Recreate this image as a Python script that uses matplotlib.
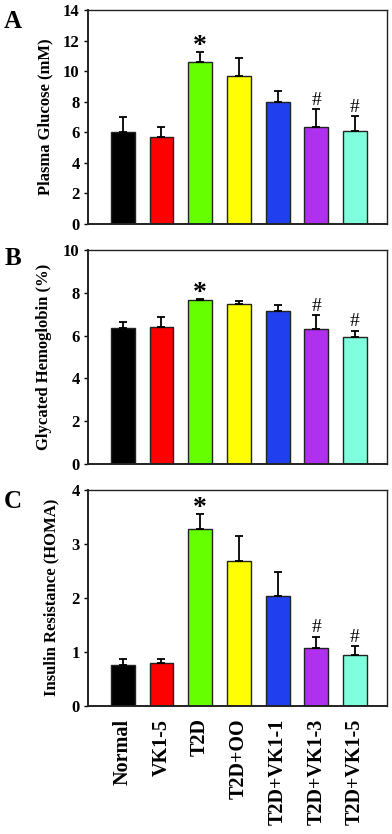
import matplotlib
matplotlib.use("Agg")
import matplotlib.pyplot as plt
import numpy as np

groups = ["Normal", "VK1-5", "T2D", "T2D+OO", "T2D+VK1-1", "T2D+VK1-3", "T2D+VK1-5"]
colors = ["#000000", "#FF0000", "#66FF00", "#FFFF00", "#2040F0", "#B030F0", "#80FFDD"]

glucose = [6.0, 5.71, 10.6, 9.68, 8.0, 6.37, 6.08]
glucose_err = [0.98, 0.61, 0.65, 1.2, 0.7, 1.13, 0.96]

hba1c = [6.36, 6.39, 7.67, 7.47, 7.14, 6.30, 5.94]
hba1c_err = [0.28, 0.5, 0.06, 0.15, 0.3, 0.64, 0.28]

homa = [0.75, 0.79, 3.27, 2.68, 2.04, 1.08, 0.94]
homa_err = [0.11, 0.07, 0.28, 0.47, 0.44, 0.2, 0.16]

marks_glucose = ["", "", "*", "", "", "#", "#"]
marks_hba1c = ["", "", "*", "", "", "#", "#"]
marks_homa = ["", "", "*", "", "", "#", "#"]

panels = [
    ("A", "Plasma Glucose (mM)", glucose, glucose_err, marks_glucose, 14, 2),
    ("B", "Glycated Hemoglobin (%)", hba1c, hba1c_err, marks_hba1c, 10, 2),
    ("C", "Insulin Resistance (HOMA)", homa, homa_err, marks_homa, 4, 1),
]

plt.rcParams["font.family"] = ["Liberation Serif", "DejaVu Serif"]
plt.rcParams["font.weight"] = "bold"

W, H = 392, 834
fig = plt.figure(figsize=(W / 100, H / 100), dpi=100)

boxes = [(10, 224), (250, 464), (489.5, 706)]
label_x = [45, 44, 51]
letter_y = [22, 258, 501]

x = np.arange(len(groups))
for k, (letter, ylabel, vals, errs, marks, ymax, step) in enumerate(panels):
    top, bot = boxes[k]
    ax = fig.add_axes([88 / W, (H - bot) / H, 299 / W, (bot - top) / H])
    ax.bar(x, vals, width=0.62, color=colors, edgecolor="#222222", linewidth=1.0, zorder=2)
    ax.errorbar(x, vals, yerr=[np.zeros(len(vals)), errs], fmt="none",
                ecolor="black", elinewidth=1.3, capsize=3.2, capthick=1.3, zorder=3)
    for i, m in enumerate(marks):
        if not m:
            continue
        yt = vals[i] + errs[i]
        if m == "*":
            ax.annotate(m, (x[i], yt), xytext=(0, -5), textcoords="offset points",
                        ha="center", va="bottom", fontsize=20, fontweight="bold")
        else:
            ax.annotate(m, (x[i], yt), xytext=(0, 0.5), textcoords="offset points",
                        ha="center", va="bottom", fontsize=14, fontweight="normal")
    ax.set_xlim(-0.9, 6.83)
    ax.set_ylim(0, ymax)
    ax.set_yticks(np.arange(0, ymax + 0.01, step))
    ax.tick_params(axis="y", direction="out", length=3, width=1, pad=3, labelsize=12)
    for lab in ax.get_yticklabels():
        lab.set_fontweight("bold")
    for s in ax.spines.values():
        s.set_linewidth(1.0)
        s.set_color("#222222")
    ax.spines["left"].set_linewidth(1.4)
    ax.spines["bottom"].set_linewidth(1.4)
    if k < 2:
        ax.set_xticks([])
    else:
        ax.set_xticks(x)
        ax.set_xticklabels(groups, rotation=90, fontsize=14.5, fontweight="bold")
        ax.tick_params(axis="x", length=0, pad=9)
    fig.text(label_x[k] / W, 1 - (top + bot) / 2 / H, ylabel, rotation=90,
             ha="center", va="center", fontsize=12, fontweight="bold")
    fig.text(13 / W, 1 - letter_y[k] / H, letter, ha="center", va="center",
             fontsize=18, fontweight="bold")

fig.savefig("out.png", dpi=100)
